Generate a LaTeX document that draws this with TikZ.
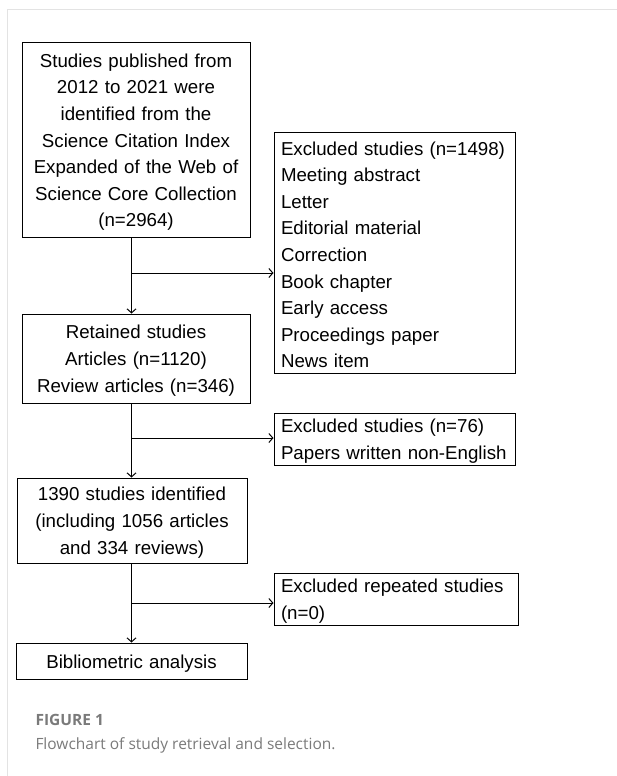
\documentclass[tikz,border=0pt]{standalone}
\usepackage{fontspec}
\setmainfont{Liberation Sans}
\newfontfamily\capfont{Open Sans}
\usetikzlibrary{positioning,arrows.meta}
\definecolor{framegray}{HTML}{E3E3E3}
\definecolor{capgray}{HTML}{7A7A7A}
\tikzstyle{arrow} = [-{Straight Barb[length=4pt,width=9pt]}]
\tikzstyle{mainbox} = [draw, align=center, inner xsep=0pt, inner ysep=0pt, execute at begin node={\rule{0pt}{18pt}}]
\tikzstyle{sidebox} = [draw, align=left, inner xsep=7pt, inner ysep=0pt, execute at begin node={\rule{0pt}{18pt}}]

\begin{document}
\begin{tikzpicture}[x=1pt, y=-1pt, line width=1pt, font=\fontsize{18.7}{26.6}\selectfont]
    \useasboundingbox (0,0) rectangle (617,776);
    \draw [framegray, line width=1.2pt] (617,9.5) -- (7.5,9.5) -- (7.5,776);

    \node [mainbox, text width=228, minimum height=194] (search) at (136,140)
        {Studies published from\\2012 to 2021 were\\identified from the\\Science Citation Index\\Expanded of the Web of\\Science Core Collection\\(n=2964)};
    \node [sidebox, text width=227, minimum height=241] (excl1) at (394.5,252.5)
        {Excluded studies (n=1498)\\Meeting abstract\\Letter\\Editorial material\\Correction\\Book chapter\\Early access\\Proceedings paper\\News item};
    \node [mainbox, text width=228, minimum height=89] (retained) at (136,358.5)
        {Retained studies\\Articles (n=1120)\\Review articles (n=346)};
    \node [sidebox, text width=227, minimum height=52] (excl2) at (394.5,439)
        {Excluded studies (n=76)\\Papers written non-English};
    \node [mainbox, text width=230, minimum height=85] (ident) at (132,520.5)
        {1390 studies identified\\(including 1056 articles\\and 334 reviews)};
    \node [sidebox, text width=230, minimum height=52] (excl3) at (396,599)
        {Excluded repeated studies\\(n=0)};
    \node [mainbox, text width=231, minimum height=36] (biblio) at (131.5,661)
        {Bibliometric analysis};

    \coordinate (spine) at (131.5,0);
    \coordinate (b1) at (131.5,273);
    \coordinate (b2) at (131.5,438);
    \coordinate (b3) at (131.5,603);

    \draw [arrow] (search.south -| spine) -- (retained.north -| spine);
    \draw [arrow] (retained.south -| spine) -- (ident.north -| spine);
    \draw [arrow] (ident.south -| spine) -- (biblio.north -| spine);
    \draw [arrow] (b1) -- (b1 -| excl1.west);
    \draw [arrow] (b2) -- (b2 -| excl2.west);
    \draw [arrow] (b3) -- (b3 -| excl3.west);

    \node [anchor=base west, inner sep=0pt, text=capgray, font=\capfont\fontsize{15.5}{18}\selectfont\bfseries] (fig) at (35,725) {FIGURE 1};
    \node [anchor=base west, inner sep=0pt, text=capgray, font=\capfont\fontsize{15.5}{18}\selectfont] (cap) at (35,749) {Flowchart of study retrieval and selection.};
\end{tikzpicture}
\end{document}
